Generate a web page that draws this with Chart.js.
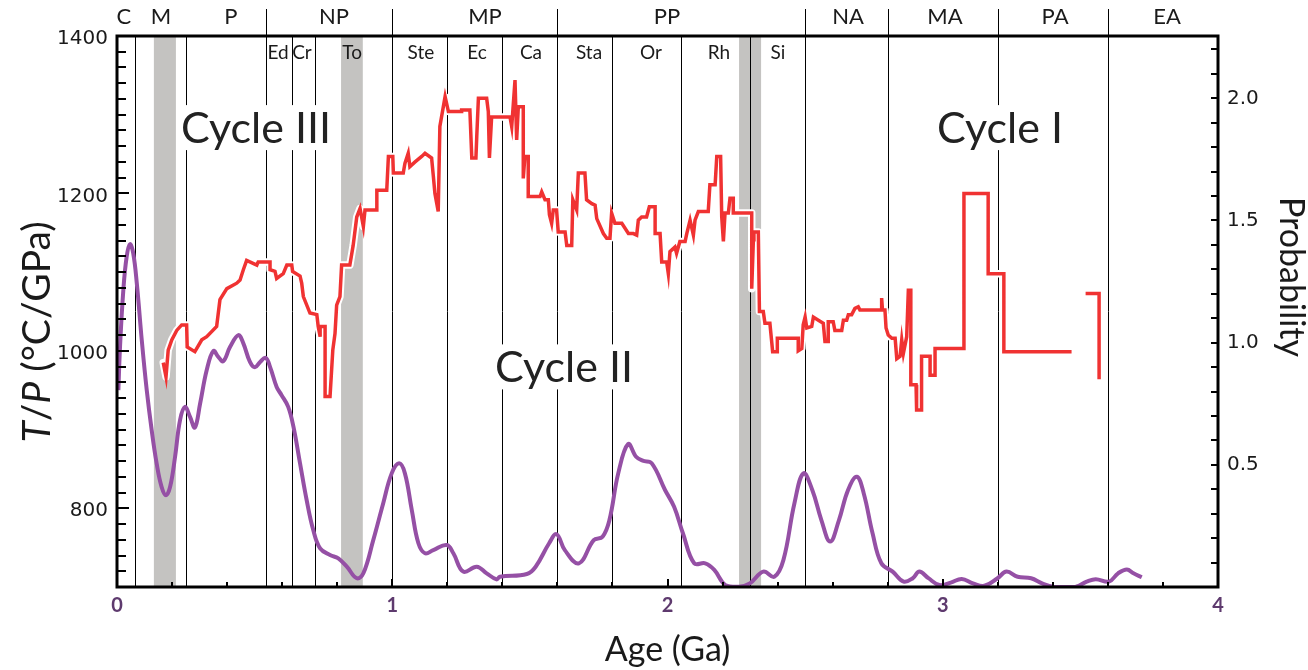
<!DOCTYPE html>
<html><head><meta charset="utf-8">
<script src="https://cdn.jsdelivr.net/npm/chart.js@4"></script>
<style>html,body{margin:0;padding:0;background:#fff;}canvas{display:block;}</style>
</head><body>
<canvas id="c" width="1308" height="670"></canvas>
<script>
// ---- T/P step record (Ga, °C/GPa) ----
const redAge = [0.168,0.178,0.186,0.199,0.217,0.235,0.253,0.255,0.283,0.308,0.326,0.362,0.374,0.399,0.435,0.447,0.459,0.471,0.508,0.513,
0.556,0.556,0.574,0.580,0.604,0.617,0.635,0.638,0.665,0.671,0.677,0.701,0.726,0.731,0.738,0.738,0.756,0.756,0.774,0.784,
0.792,0.798,0.810,0.816,0.846,0.858,0.871,0.883,0.895,0.901,0.944,0.944,0.980,0.986,1.002,1.004,1.040,1.046,1.058,1.064,
1.083,1.107,1.119,1.143,1.149,1.155,1.167,1.173,1.192,1.204,1.252,1.252,1.282,1.289,1.304,1.307,1.313,1.343,1.349,1.353,
1.361,1.428,1.434,1.446,1.452,1.458,1.476,1.476,1.482,1.494,1.494,1.537,1.543,1.555,1.567,1.571,1.579,1.585,1.597,1.603,
1.628,1.634,1.652,1.656,1.670,1.676,1.700,1.706,1.725,1.737,1.743,1.767,1.779,1.791,1.797,1.809,1.834,1.858,1.876,1.888,
1.894,1.906,1.924,1.934,1.955,1.955,1.973,1.979,1.997,2.003,2.009,2.027,2.033,2.045,2.064,2.070,2.082,2.094,2.100,2.112,
2.148,2.154,2.173,2.179,2.193,2.197,2.203,2.209,2.221,2.227,2.239,2.239,2.306,2.306,2.312,2.314,2.330,2.334,2.348,2.354,
2.372,2.379,2.382,2.399,2.399,2.475,2.475,2.488,2.493,2.500,2.506,2.524,2.530,2.548,2.566,2.572,2.584,2.584,2.602,2.608,
2.633,2.639,2.651,2.657,2.669,2.681,2.693,2.699,2.778,2.778,2.781,2.790,2.794,2.802,2.815,2.827,2.833,2.845,2.851,2.857,
2.869,2.875,2.884,2.884,2.903,2.905,2.923,2.923,2.954,2.954,2.972,2.972,3.077,3.077,3.165,3.165,3.222,3.222,3.468,3.490,
3.519,3.568,3.568];
const redTP = [985,967,1001,1014,1026,1033,1033,1005,999,1014,1018,1031,1065,1079,1086,1090,1103,1115,1109,1113,
1113,1103,1101,1092,1098,1109,1109,1101,1095,1086,1069,1048,1046,1031,1018,1031,1031,942,942,1001,
1022,1058,1069,1109,1109,1134,1170,1181,1158,1179,1179,1204,1204,1247,1247,1226,1226,1238,1251,1234,
1240,1247,1251,1245,1223,1200,1177,1285,1323,1304,1304,1306,1306,1245,1245,1272,1321,1321,1304,1245,
1297,1297,1285,1344,1268,1310,1310,1219,1247,1247,1196,1196,1202,1192,1192,1173,1162,1179,1179,1151,
1151,1134,1134,1192,1179,1226,1226,1192,1187,1185,1168,1149,1143,1143,1175,1162,1162,1149,1149,1147,
1166,1170,1170,1183,1183,1149,1149,1113,1113,1098,1126,1132,1124,1139,1139,1149,1166,1147,1166,1177,
1177,1211,1211,1247,1247,1170,1139,1175,1175,1194,1194,1175,1175,1079,1141,1151,1151,1050,1050,1035,
1035,1010,999,999,1016,1016,1000,1003,1033,1043,1029,1031,1043,1039,1035,1012,1012,1037,1037,1026,
1026,1039,1039,1046,1046,1054,1056,1052,1052,1067,1052,1052,1029,1020,1016,1016,990,993,1014,997,
1018,1077,1077,957,957,925,925,993,993,969,969,1003,1003,1200,1200,1098,1098,999,999,null,
1073,1073,964];

// ---- Probability curve (Ga, probability) ----
const probAge = [0.005,0.011,0.023,0.035,0.047,0.059,0.072,0.090,0.108,0.126,0.144,0.162,0.178,0.193,0.211,0.229,0.247,0.265,0.283,0.302,
0.326,0.350,0.368,0.386,0.411,0.441,0.459,0.483,0.501,0.520,0.540,0.556,0.580,0.598,0.622,0.641,0.665,0.689,0.713,0.738,
0.774,0.804,0.835,0.871,0.895,0.931,0.967,0.998,1.025,1.046,1.071,1.095,1.119,1.149,1.198,1.222,1.258,1.307,1.343,1.379,
1.391,1.489,1.521,1.570,1.597,1.627,1.678,1.732,1.764,1.789,1.821,1.857,1.886,1.910,1.943,1.991,2.024,2.056,2.097,2.137,
2.170,2.210,2.259,2.299,2.348,2.388,2.421,2.461,2.494,2.526,2.559,2.591,2.623,2.656,2.688,2.713,2.745,2.777,2.818,2.858,
2.891,2.915,2.948,2.988,3.029,3.069,3.110,3.151,3.199,3.232,3.272,3.321,3.361,3.402,3.483,3.523,3.556,3.604,3.637,3.669,
3.693,3.723];
const probVal = [0.806,0.983,1.215,1.351,1.403,1.365,1.242,1.010,0.806,0.642,0.506,0.410,0.376,0.410,0.533,0.683,0.737,0.697,0.653,0.751,
0.888,0.966,0.942,0.924,0.983,1.031,0.997,0.921,0.899,0.921,0.938,0.901,0.819,0.785,0.737,0.656,0.506,0.356,0.233,0.158,
0.131,0.117,0.083,0.036,0.056,0.192,0.342,0.465,0.506,0.465,0.315,0.179,0.138,0.151,0.172,0.138,0.063,0.083,0.056,0.031,
0.042,0.053,0.083,0.179,0.216,0.151,0.097,0.192,0.206,0.274,0.465,0.585,0.533,0.517,0.506,0.397,0.328,0.220,0.097,0.097,
0.070,0.008,0.001,0.015,0.063,0.042,0.110,0.342,0.465,0.397,0.274,0.186,0.274,0.397,0.451,0.383,0.220,0.097,0.063,0.022,
0.036,0.063,0.036,0.008,0.018,0.033,0.015,0.005,0.036,0.063,0.042,0.036,0.015,0.001,0.001,0.022,0.032,0.022,0.056,0.072,
0.056,0.040];

// ---- Geological time scale ----
const eraNames = ['C','M','P','NP','MP','PP','NA','MA','PA','EA'];
const eraLabelAge = [0.025,0.160,0.414,0.788,1.337,1.998,2.656,3.008,3.408,3.815];
const eraBounds = [0.541,1.0,1.6,2.5,2.8,3.2,3.6];
const periodLines = [0.066,0.252,0.541,0.635,0.72,1.0,1.2,1.4,1.6,1.8,2.05,2.3,2.5,2.8,3.2,3.6];
const periodNames = ['Ed','Cr','To','Ste','Ec','Ca','Sta','Or','Rh','Si'];
const periodLabelAge = [0.585,0.672,0.854,1.104,1.308,1.504,1.715,1.940,2.187,2.401];
const glaciations = [[0.134,0.214],[0.814,0.893],[2.26,2.34]];
const cycleNames = ['Cycle III','Cycle II','Cycle I'];
const cycleAge = [0.505,1.624,3.208];
const cycleTP = [1283,979,1283];

// ---- Tick labels ----
const tpLabels = [800,1000,1200,1400];
const probLabels = [0.5,1.0,1.5,2.0];
const ageLabels = [0,1,2,3,4];

const redPts = redAge.map((a,i)=>({x:a,y:redTP[i]}));
const probPts = probAge.map((a,i)=>({x:a,y:probVal[i]}));

const TXT = '#1a1a1a';

const decor = {
  id:'decor',
  beforeDatasetsDraw(chart){
    const {ctx, chartArea:a, scales:{x,y}} = chart;
    ctx.save();
    ctx.fillStyle = '#c4c3c1';
    glaciations.forEach(([s,e])=>{
      const x0=x.getPixelForValue(s), x1=x.getPixelForValue(e);
      ctx.fillRect(x0,a.top,x1-x0,a.bottom-a.top);
    });
    ctx.strokeStyle='#000'; ctx.lineWidth=1;
    periodLines.forEach(v=>{
      const px=Math.round(x.getPixelForValue(v))+0.5;
      ctx.beginPath(); ctx.moveTo(px,a.top); ctx.lineTo(px,a.bottom); ctx.stroke();
    });
    ctx.textAlign='center'; ctx.textBaseline='middle';
    ctx.fillStyle=TXT; ctx.font='19px Lato';
    periodNames.forEach((n,i)=>ctx.fillText(n,x.getPixelForValue(periodLabelAge[i]),a.top+17));
    ctx.font='43px Lato';
    cycleNames.forEach((n,i)=>{
      const cx=x.getPixelForValue(cycleAge[i]), cy=y.getPixelForValue(cycleTP[i]);
      const w=ctx.measureText(n).width;
      ctx.fillStyle='#fff'; ctx.fillRect(cx-w/2-4,cy-23,w+8,45);
      ctx.fillStyle='#222'; ctx.fillText(n,cx,cy+1);
    });
    ctx.restore();
  },
  afterDraw(chart){
    const {ctx, chartArea:a, scales:{x,y,y1}} = chart;
    ctx.save();
    ctx.strokeStyle='#000';
    ctx.lineWidth=2;
    for(let v=720; v<1400; v+=20){
      const py=Math.round(y.getPixelForValue(v));
      const len = tpLabels.includes(v)?12:9;
      ctx.beginPath(); ctx.moveTo(a.left,py); ctx.lineTo(a.left+len,py); ctx.stroke();
    }
    for(let k=1; k<=22; k++){
      const v=k/10, py=Math.round(y1.getPixelForValue(v));
      ctx.beginPath(); ctx.moveTo(a.right,py); ctx.lineTo(a.right-7,py); ctx.stroke();
    }
    for(let k=1; k<20; k++){
      const v=k/5, px=Math.round(x.getPixelForValue(v));
      const len = (k%5===0)?8:5;
      ctx.beginPath(); ctx.moveTo(px,a.bottom); ctx.lineTo(px,a.bottom-len); ctx.stroke();
    }
    ctx.lineWidth=3;
    ctx.strokeRect(a.left,a.top,a.right-a.left,a.bottom-a.top);
    ctx.lineWidth=1;
    eraBounds.forEach(v=>{
      const px=Math.round(x.getPixelForValue(v))+0.5;
      ctx.beginPath(); ctx.moveTo(px,9); ctx.lineTo(px,a.top); ctx.stroke();
    });
    ctx.fillStyle=TXT; ctx.textAlign='center'; ctx.textBaseline='middle';
    ctx.font='22px Lato';
    eraNames.forEach((n,i)=>ctx.fillText(n,x.getPixelForValue(eraLabelAge[i]),17));
    ctx.font='34px Lato';
    ctx.fillText('Age (Ga)',(a.left+a.right)/2,650);
    ctx.save();
    ctx.translate(1291,277); ctx.rotate(Math.PI/2);
    ctx.fillText('Probability',0,0);
    ctx.restore();
    const parts=[['T','italic '],['/',''],['P','italic '],[' (°C/GPa)','']];
    let total=0;
    parts.forEach(p=>{ctx.font=p[1]+'39px Lato'; p.w=ctx.measureText(p[0]).width; total+=p.w;});
    ctx.save();
    ctx.translate(37,332); ctx.rotate(-Math.PI/2);
    ctx.textAlign='left';
    let cx=-total/2;
    parts.forEach(p=>{ctx.font=p[1]+'39px Lato'; ctx.fillText(p[0],cx,0); cx+=p.w;});
    ctx.restore();
    ctx.restore();
  }
};

new Chart(document.getElementById('c').getContext('2d'),{
  type:'line',
  data:{datasets:[
    {label:'halo',data:redPts,borderColor:'#ffffff',borderWidth:7.5,pointRadius:0,yAxisID:'y',order:3,spanGaps:false,tension:0,borderJoinStyle:'round',borderCapStyle:'round'},
    {label:'T/P',data:redPts,borderColor:'#f03232',borderWidth:3.5,pointRadius:0,yAxisID:'y',order:2,spanGaps:false,tension:0,borderJoinStyle:'miter'},
    {label:'Probability',data:probPts,borderColor:'#9550a5',borderWidth:4,pointRadius:0,yAxisID:'y1',order:1,tension:0.4}
  ]},
  options:{
    responsive:false, animation:false, devicePixelRatio:1,
    layout:{padding:{top:36,left:0,right:0,bottom:0}},
    plugins:{legend:{display:false},tooltip:{enabled:false}},
    scales:{
      x:{type:'linear',min:0,max:4,grid:{display:false,drawTicks:false},border:{display:false},
        afterFit(s){s.height=83;},
        afterBuildTicks(s){s.ticks=ageLabels.map(v=>({value:v}));},
        ticks:{font:{family:'Lato',size:20,weight:'bold'},color:'#5e3a6e',padding:7,maxRotation:0,callback:v=>String(v)}},
      y:{position:'left',min:700,max:1400,grid:{display:false,drawTicks:false},border:{display:false},
        afterFit(s){s.width=117;},
        afterBuildTicks(s){s.ticks=tpLabels.map(v=>({value:v}));},
        ticks:{font:{family:'DejaVu Sans',size:20},color:TXT,padding:9,labelOffset:3,callback:v=>String(v)}},
      y1:{position:'right',min:0,max:2.255,grid:{display:false,drawTicks:false},border:{display:false},
        afterFit(s){s.width=90;},
        afterBuildTicks(s){s.ticks=probLabels.map(v=>({value:v}));},
        ticks:{font:{family:'DejaVu Sans',size:20},color:TXT,padding:9,callback:v=>Number(v).toFixed(1)}}
    }
  },
  plugins:[decor]
});
</script>
</body></html>
